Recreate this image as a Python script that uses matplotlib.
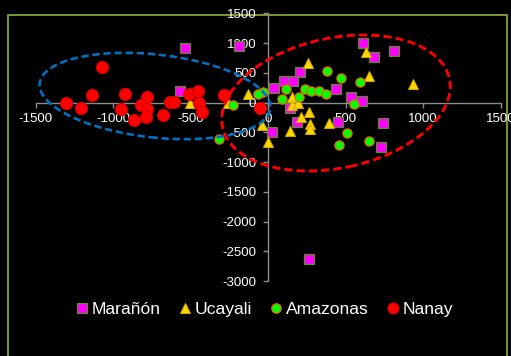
import matplotlib
matplotlib.use("Agg")
import matplotlib.pyplot as plt
from matplotlib.patches import Ellipse, Rectangle
from matplotlib.lines import Line2D

# --- data -------------------------------------------------------------
maranon_x = [-539, -567, -189, 611, 684, 811, 204, 103, 159, 37, 435, 536,
             607, 140, 185, 448, 742, 24, 725, 265]
maranon_y = [917, 199, 951, 997, 771, 867, 513, 362, 362, 249, 232, 98,
             30, -98, -333, -333, -340, -502, -744, -2630]

ucayali_x = [630, 256, 652, 936, 151, 151, 194, 260, 211, 269, 269, 390,
             140, -4, -43, -133, -505, -262]
ucayali_y = [855, 660, 446, 306, 88, -47, -13, -155, -239, -362, -451, -350,
             -475, -670, -379, 138, -13, -13]

amazonas_x = [379, 469, 590, 239, 278, 329, 372, 112, 90, 198, 553, 510,
              458, 650, -36, -65, -230, -320]
amazonas_y = [525, 412, 345, 222, 194, 194, 148, 222, 54, 88, -30, -508,
              -715, -643, 172, 143, -47, -620]

nanay_x = [-1307, -1210, -1137, -1073, -924, -948, -868, -783, -819, -785,
           -791, -681, -634, -606, -512, -456, -449, -428, -286, -55]
nanay_y = [-13, -98, 121, 603, 143, -115, -295, 98, -47, -104, -244, -205,
           3, 13, 138, 199, -3, -165, 131, -100]

series_names = ["Marañón", "Ucayali", "Amazonas", "Nanay"]
x_ticks = [-1500, -1000, -500, 0, 500, 1000, 1500]
y_ticks = [1500, 1000, 500, 0, -500, -1000, -1500, -2000, -2500, -3000]

# --- figure -------------------------------------------------------------
plt.rcParams["font.family"] = ["Liberation Sans", "DejaVu Sans"]
W, H, DPI = 511, 356, 100
fig = plt.figure(figsize=(W / DPI, H / DPI), dpi=DPI, facecolor="black")

# plot area in pixels: x -1500..1500 -> 35.8..500.7, y 1500..-3000 -> 13.3..281
px_l, px_r, px_t, px_b = 35.8, 500.7, 13.3, 281.0
ax = fig.add_axes([px_l / W, (H - px_b) / H, (px_r - px_l) / W, (px_b - px_t) / H])
ax.patch.set_visible(False)
ax.set_xlim(-1500, 1500)
ax.set_ylim(-3000, 1500)

axis_gray = "#8c8c8c"
for side in ("top", "right"):
    ax.spines[side].set_visible(False)
for side in ("left", "bottom"):
    ax.spines[side].set_position(("data", 0))
    ax.spines[side].set_color(axis_gray)
    ax.spines[side].set_linewidth(1.0)
    ax.spines[side].set_zorder(1)

ax.set_xticks(x_ticks)
ax.set_yticks(y_ticks)
ax.set_xticklabels([str(v) for v in x_ticks])
ax.set_yticklabels([str(v) for v in y_ticks])
ax.tick_params(axis="both", colors=axis_gray, labelcolor="white",
               labelsize=9.5, length=3.6, width=1.0, direction="out")
ax.tick_params(axis="x", pad=4.0)
ax.tick_params(axis="y", pad=5.0)

common = dict(linestyle="none", clip_on=False)
ax.plot(maranon_x, maranon_y, marker="s", ms=6.6, mfc="#ff00ff",
        mec="#5b8c2a", mew=0.9, zorder=3, **common)
ax.plot(ucayali_x, ucayali_y, marker="^", ms=7.2, mfc="#ffd700",
        mec="#d9a800", mew=0.7, zorder=4, **common)
ax.plot(amazonas_x, amazonas_y, marker="o", ms=6.6, mfc="#00ff00",
        mec="#e36c09", mew=0.9, zorder=5, **common)
ax.plot(nanay_x, nanay_y, marker="o", ms=8.8, mfc="#ff0000",
        mec="#d40000", mew=0.7, zorder=6, **common)

# dashed ellipses grouping the clusters (placed in inches on the canvas)
def inch(px, py):
    return (px / DPI, (H - py) / DPI)

blue = Ellipse(inch(155, 96), 232 / DPI, 83 / DPI, angle=-6.3,
               transform=fig.dpi_scale_trans, fill=False, edgecolor="#0070c0",
               linewidth=1.9, linestyle=(0, (2.8, 1.4)), zorder=10, clip_on=False)
red = Ellipse(inch(336, 103), 232 / DPI, 130 / DPI, angle=12,
              transform=fig.dpi_scale_trans, fill=False, edgecolor="#ff0000",
              linewidth=2.1, linestyle=(0, (2.8, 1.4)), zorder=10, clip_on=False)
fig.add_artist(blue)
fig.add_artist(red)

# chart frame
frame = Rectangle(inch(8.3, 380), (507 - 8.3) / DPI, (380 - 15.3) / DPI,
                  transform=fig.dpi_scale_trans, fill=False,
                  edgecolor="#8db33a", linewidth=1.2, zorder=-1)
fig.add_artist(frame)

# legend
handles = [
    Line2D([], [], linestyle="none", marker="s", ms=6.8, mfc="#ff00ff",
           mec="#5b8c2a", mew=0.9),
    Line2D([], [], linestyle="none", marker="^", ms=7.4, mfc="#ffd700",
           mec="#d9a800", mew=0.7),
    Line2D([], [], linestyle="none", marker="o", ms=6.8, mfc="#00ff00",
           mec="#e36c09", mew=0.9),
    Line2D([], [], linestyle="none", marker="o", ms=8.0, mfc="#ff0000",
           mec="#d40000", mew=0.7),
]
leg = fig.legend(handles, series_names, loc="center",
                 bbox_to_anchor=(264 / W, (H - 309) / H), ncol=4,
                 frameon=False, fontsize=12.6, handlelength=0.8,
                 handletextpad=0.15, columnspacing=1.0, borderpad=0)
for t in leg.get_texts():
    t.set_color("white")

fig.savefig("out.png", dpi=DPI, facecolor="black")
